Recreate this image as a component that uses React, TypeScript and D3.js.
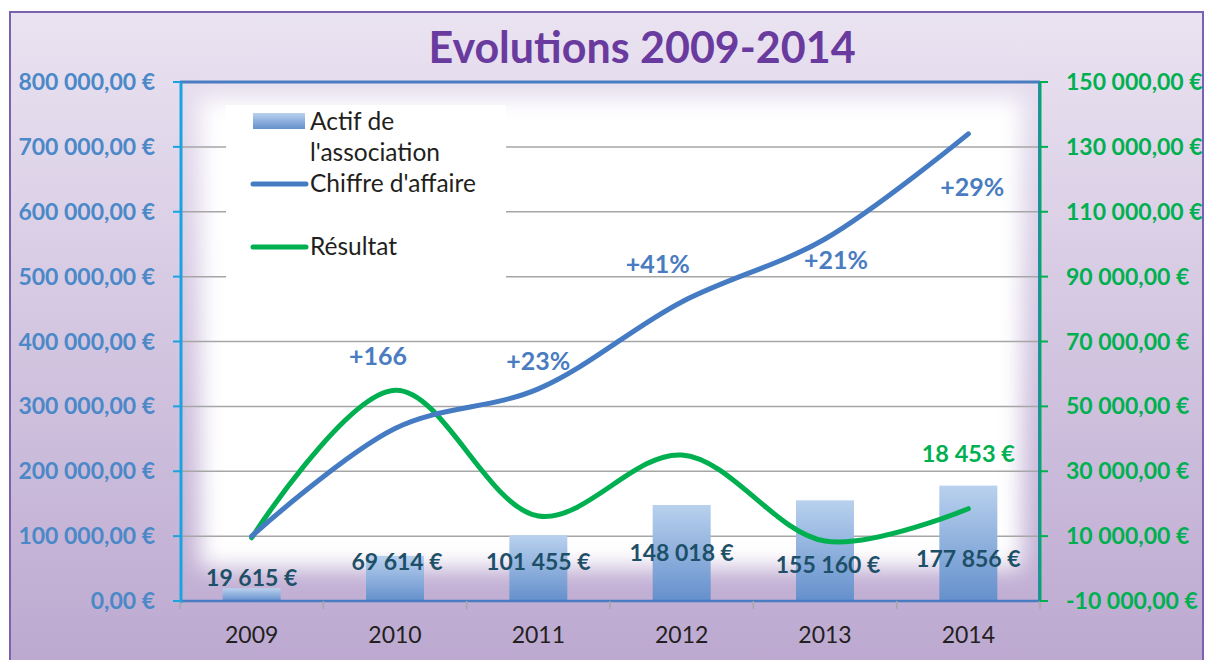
import React from "react";
import * as d3 from "d3";

const years = ["2009", "2010", "2011", "2012", "2013", "2014"];
const actif = [19615, 69614, 101455, 148018, 155160, 177856];
const chiffre = [100000, 266000, 327000, 461000, 558000, 720000];
const resultat = [9500, 55000, 16200, 35000, 8500, 18453];
const actifLabels = ["19 615 €", "69 614 €", "101 455 €", "148 018 €", "155 160 €", "177 856 €"];
const growthLabels = ["", "+166", "+23%", "+41%", "+21%", "+29%"];
const leftTicks = [0, 100000, 200000, 300000, 400000, 500000, 600000, 700000, 800000];
const rightTicks = [-10000, 10000, 30000, 50000, 70000, 90000, 110000, 130000, 150000];

// label nudges (px) so they sit like the original
const barLabelDy = [-2, 14, 35, 56, 73, 81];
const barLabelDx = [0, 2, 0, 0, 3, 0];
const growthDx = [0, -17, 0, -24, 11, 4];
const growthDy = [0, -63, -19, -29, 30, 62];

const W = 1210;
const H = 660;
const plot = { left: 180, right: 1040, top: 82, bottom: 601 };
const font = "Lato, 'Open Sans', sans-serif";

const fmt = (v: number) => {
  const s = d3.format(",.2f")(Math.abs(v)).replace(/,/g, " ").replace(".", ",");
  return (v < 0 ? "-" : "") + s + " €";
};

export default function App() {
  const x = d3.scaleBand().domain(years).range([plot.left, plot.right]).paddingInner(0).paddingOuter(0);
  const yL = d3.scaleLinear().domain([0, 800000]).range([plot.bottom, plot.top]);
  const yR = d3.scaleLinear().domain([-10000, 150000]).range([plot.bottom, plot.top]);
  const cx = (i: number) => (x(years[i]) as number) + x.bandwidth() / 2;
  const barW = 58;

  const lineL = d3
    .line<number>()
    .x((_, i) => cx(i))
    .y((d) => yL(d))
    .curve(d3.curveCatmullRom.alpha(0.5));
  const lineR = d3
    .line<number>()
    .x((_, i) => cx(i))
    .y((d) => yR(d))
    .curve(d3.curveCatmullRom.alpha(0.5));

  return (
    <svg
      width={W}
      height={H}
      style={{ position: "absolute", left: 0, top: 0, display: "block" }}
    >
      <defs>
        <linearGradient id="bg" x1="0" y1="0" x2="0" y2="1">
          <stop offset="0%" stopColor="#eae3f1" />
          <stop offset="100%" stopColor="#bca8d0" />
        </linearGradient>
        <linearGradient id="bar" x1="0" y1="0" x2="0" y2="1">
          <stop offset="0%" stopColor="#b9d1ee" />
          <stop offset="100%" stopColor="#6590cc" />
        </linearGradient>
        <linearGradient id="legbar" x1="0" y1="0" x2="0" y2="1">
          <stop offset="0%" stopColor="#b9d1ee" />
          <stop offset="100%" stopColor="#6590cc" />
        </linearGradient>
        <filter id="glow" x="-10%" y="-10%" width="120%" height="120%">
          <feGaussianBlur stdDeviation="11" />
        </filter>
      </defs>

      <rect x={0} y={0} width={W} height={H} fill="#ffffff" />
      <rect x={10} y={12} width={1193} height={H} fill="url(#bg)" stroke="#7b62ae" strokeWidth={2} />

      {/* white glow inside plot */}
      <rect x={200} y={98} width={822} height={470} fill="#ffffff" filter="url(#glow)" />

      <text
        x={642}
        y={63}
        textAnchor="middle"
        fontFamily={font}
        fontWeight="bold"
        fontSize={43}
        fill="#6a3b9e"
      >
        Evolutions 2009-2014
      </text>

      {/* gridlines */}
      {leftTicks.slice(1, -1).map((t) => (
        <line key={t} x1={plot.left} x2={plot.right} y1={yL(t)} y2={yL(t)} stroke="#a6a6a6" strokeWidth={1.5} />
      ))}

      {/* bars */}
      {actif.map((v, i) => (
        <rect
          key={years[i]}
          x={cx(i) - barW / 2}
          y={yL(v)}
          width={barW}
          height={yL(0) - yL(v)}
          fill="url(#bar)"
        />
      ))}

      {/* plot frame */}
      <line x1={plot.left} x2={plot.right} y1={plot.top} y2={plot.top} stroke="#4a7cc1" strokeWidth={3} />
      <line x1={plot.left} x2={plot.right} y1={plot.bottom} y2={plot.bottom} stroke="#4a7cc1" strokeWidth={2.5} />
      <line x1={plot.left + 1} x2={plot.left + 1} y1={plot.top} y2={plot.bottom + 2} stroke="#1aa3e0" strokeWidth={3} />
      <line x1={plot.right} x2={plot.right} y1={plot.top} y2={plot.bottom} stroke="#00a86b" strokeWidth={3} />
      <line x1={plot.right - 1.5} x2={plot.right - 1.5} y1={plot.top} y2={plot.bottom} stroke="#3f7ac4" strokeWidth={1} />

      {/* x ticks */}
      {years.concat(["end"]).map((_, i) => {
        const xx = plot.left + i * x.bandwidth();
        return <line key={i} x1={xx} x2={xx} y1={plot.bottom} y2={plot.bottom + 8} stroke="#a6a6a6" strokeWidth={1.5} />;
      })}

      {/* left axis */}
      {leftTicks.map((t) => (
        <g key={t}>
          <line x1={173} x2={plot.left} y1={yL(t)} y2={yL(t)} stroke="#1aa3e0" strokeWidth={2} />
          <text
            x={155}
            y={yL(t) + 8}
            textAnchor="end"
            fontFamily={font}
            fontWeight="bold"
            fontSize={23}
            fill="#4a88c8"
          >
            {fmt(t)}
          </text>
        </g>
      ))}

      {/* right axis */}
      {rightTicks.map((t) => (
        <g key={t}>
          <line x1={plot.right} x2={plot.right + 8} y1={yR(t)} y2={yR(t)} stroke="#00b050" strokeWidth={2} />
          <text
            x={1066}
            y={yR(t) + 8}
            textAnchor="start"
            fontFamily={font}
            fontWeight="bold"
            fontSize={23}
            fill="#00b050"
          >
            {fmt(t)}
          </text>
        </g>
      ))}

      {/* x labels */}
      {years.map((yv, i) => (
        <text key={yv} x={cx(i)} y={643} textAnchor="middle" fontFamily={font} fontSize={23} fill="#231f20">
          {yv}
        </text>
      ))}

      {/* lines */}
      <path d={lineR(resultat) || ""} fill="none" stroke="#00b050" strokeWidth={5} strokeLinecap="round" />
      <path d={lineL(chiffre) || ""} fill="none" stroke="#457bc3" strokeWidth={5} strokeLinecap="round" />

      {/* bar labels */}
      {actifLabels.map((l, i) => (
        <text
          key={l}
          x={cx(i) + barLabelDx[i]}
          y={yL(actif[i]) + barLabelDy[i]}
          textAnchor="middle"
          fontFamily={font}
          fontWeight="bold"
          fontSize={23}
          fill="#1d5068"
        >
          {l}
        </text>
      ))}

      {/* growth labels */}
      {growthLabels.map((l, i) =>
        l ? (
          <text
            key={i}
            x={cx(i) + growthDx[i]}
            y={yL(chiffre[i]) + growthDy[i]}
            textAnchor="middle"
            fontFamily={font}
            fontWeight="bold"
            fontSize={25}
            fill="#4a7cc1"
          >
            {l}
          </text>
        ) : null
      )}

      <text
        x={cx(5)}
        y={yR(resultat[5]) - 47}
        textAnchor="middle"
        fontFamily={font}
        fontWeight="bold"
        fontSize={23.5}
        fill="#00b050"
      >
        18 453 €
      </text>

      {/* legend */}
      <g fontFamily={font} fontSize={24.5} fill="#231f20">
        <rect x={226} y={105} width={280} height={177} fill="#ffffff" />
        <rect x={253} y={113} width={52} height={16} fill="url(#legbar)" />
        <text x={310} y={130}>Actif de</text>
        <text x={310} y={161}>l'association</text>
        <line x1={253} x2={306} y1={184} y2={184} stroke="#457bc3" strokeWidth={5} strokeLinecap="round" />
        <text x={310} y={192}>Chiffre d'affaire</text>
        <line x1={253} x2={306} y1={247} y2={247} stroke="#00b050" strokeWidth={5} strokeLinecap="round" />
        <text x={310} y={255}>Résultat</text>
      </g>
    </svg>
  );
}
